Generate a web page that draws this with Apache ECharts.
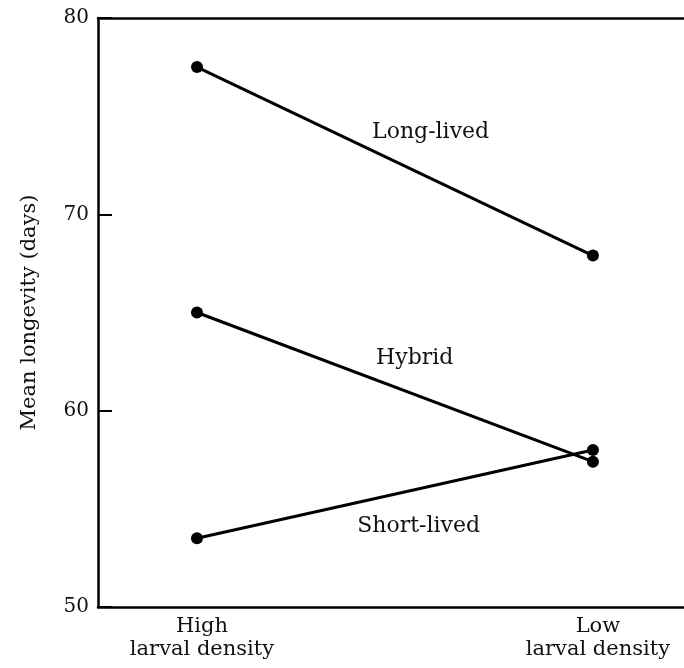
<!DOCTYPE html>
<html>
<head>
<meta charset="utf-8">
<title>Mean longevity by larval density</title>
<script src="https://cdn.jsdelivr.net/npm/echarts@6/dist/echarts.min.js"></script>
<style>
  html, body { margin: 0; padding: 0; background: #fff; }
  #chart { width: 684px; height: 668px; }
</style>
</head>
<body>
<div id="chart"></div>
<script>
// Larval density treatments (x positions 0 and 1 on the value axis)
const categories = ['High\nlarval density', 'Low\nlarval density'];
const categoryPos = [0, 1];

// Mean longevity (days) for each line at high and low larval density
const longLived = [77.5, 67.9];
const hybrid = [65.0, 57.4];
const shortLived = [53.5, 58.0];

const yTicks = [50, 60, 70, 80];

const serif = 'DejaVu Serif';
const ink = '#111';

function lineSeries(name, values, labelCoord) {
  return {
    name: name,
    type: 'line',
    data: values.map((v, i) => [categoryPos[i], v]),
    symbol: 'circle',
    symbolSize: 12,
    itemStyle: { color: '#000' },
    lineStyle: { color: '#000', width: 3 },
    z: 3,
    markPoint: {
      symbol: 'circle',
      symbolSize: 0,
      silent: true,
      data: [{ coord: labelCoord, value: name }],
      label: {
        show: true,
        position: 'inside',
        formatter: name,
        fontFamily: serif,
        fontSize: 22,
        color: ink
      }
    }
  };
}

const chart = echarts.init(document.getElementById('chart'));
chart.setOption({
  animation: false,
  backgroundColor: '#fff',
  grid: { left: 98, top: 18, right: 0, bottom: 61, containLabel: false },
  xAxis: [
    {
      type: 'value',
      min: -0.25,
      max: 1.23,
      position: 'bottom',
      splitLine: { show: false },
      axisLine: { show: true, onZero: false, lineStyle: { color: '#000', width: 2.5 } },
      axisTick: { show: false },
      axisLabel: {
        show: true,
        customValues: categoryPos,
        formatter: v => categories[categoryPos.indexOf(v)] || '',
        fontFamily: serif,
        fontSize: 21,
        lineHeight: 23,
        color: ink,
        margin: 8,
        padding: [0, 0, 0, 10]
      }
    },
    {
      type: 'value',
      min: -0.25,
      max: 1.23,
      position: 'top',
      splitLine: { show: false },
      axisLine: { show: true, onZero: false, lineStyle: { color: '#000', width: 2.5 } },
      axisTick: { show: false },
      axisLabel: { show: false }
    }
  ],
  yAxis: {
    type: 'value',
    min: 50,
    max: 80,
    interval: 10,
    position: 'left',
    name: 'Mean longevity (days)',
    nameLocation: 'middle',
    nameRotate: 90,
    nameGap: 58,
    nameTextStyle: { fontFamily: serif, fontSize: 21, color: ink },
    splitLine: { show: false },
    axisLine: { show: true, onZero: false, lineStyle: { color: '#000', width: 2.5 } },
    axisTick: { show: true, inside: true, length: 14, lineStyle: { color: '#000', width: 2 } },
    axisLabel: {
      fontFamily: serif,
      fontSize: 20,
      color: ink,
      margin: 9,
      customValues: yTicks
    }
  },
  series: [
    lineSeries('Long-lived', longLived, [0.59, 74.2]),
    lineSeries('Hybrid', hybrid, [0.55, 62.65]),
    lineSeries('Short-lived', shortLived, [0.56, 54.1])
  ]
});
</script>
</body>
</html>
